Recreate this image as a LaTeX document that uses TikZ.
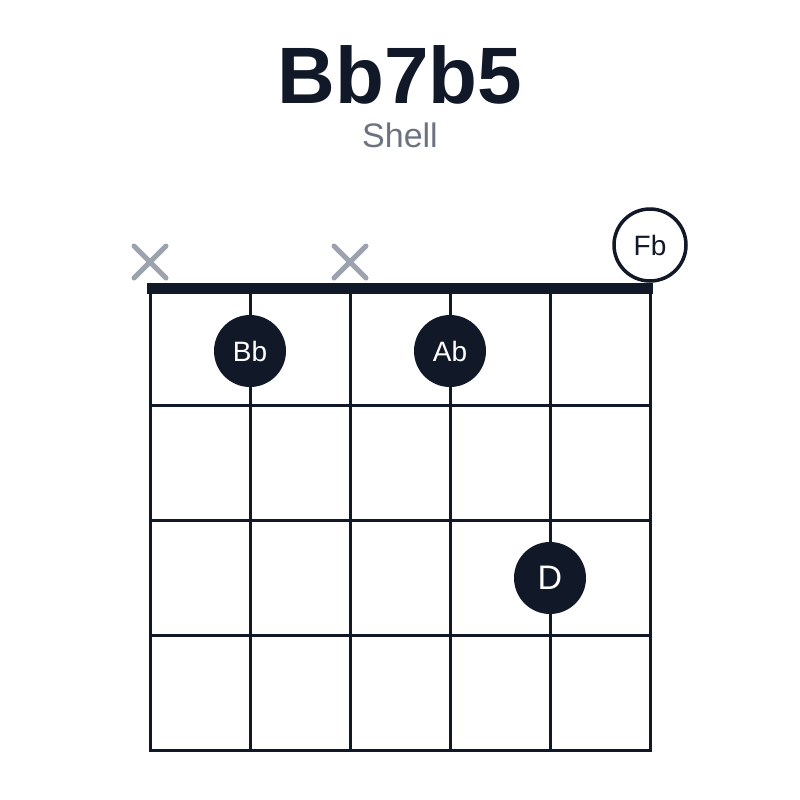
\documentclass[tikz,border=0pt]{standalone}
\usepackage{fontspec}
\setmainfont{Liberation Sans}
\definecolor{ink}{HTML}{111827}
\definecolor{subgray}{HTML}{6B7280}
\definecolor{muted}{HTML}{9CA3AF}

\begin{document}
\begin{tikzpicture}[
      x=1pt,y=-1pt,
      string/.style={ink,line width=3pt},
      fret/.style={ink,line width=3pt},
      nut/.style={ink,line width=11pt},
      finger/.style={circle,fill=ink,text=white,minimum size=72pt,inner sep=0pt,font=\fontsize{28}{28}\selectfont},
      open note/.style={circle,draw=ink,line width=3.5pt,fill=white,text=ink,minimum size=72pt,inner sep=0pt,font=\fontsize{28}{28}\selectfont},
      muted string/.style={muted,line width=5pt,line cap=round},
    ]
    \useasboundingbox (0,0) rectangle (800,800);
    % title
    \node[anchor=base,text=ink,font=\fontsize{80}{80}\selectfont\bfseries] (title) at (400,103) {Bb7b5};
    \node[anchor=base,text=subgray,font=\fontsize{34}{34}\selectfont] (subtitle) at (400,147) {Shell};
    % strings and frets
    \foreach \s in {0,...,5}
      \draw[string] (150+100*\s,288) -- (150+100*\s,751.5);
    \foreach \y in {405,520,635,750}
      \draw[fret] (148.5,\y) -- (651.5,\y);
    \draw[nut] (147,288) -- (653,288);
    % muted strings
    \foreach \x in {150,350}
      \draw[muted string] (\x-16,246) -- (\x+16,278) (\x-16,278) -- (\x+16,246);
    % notes
    \node[open note] (Fb) at (650,245) {Fb};
    \node[finger] (Bb) at (250,351) {Bb};
    \node[finger] (Ab) at (450,351) {Ab};
    \node[finger,font=\fontsize{34}{34}\selectfont] (D) at (550,578) {D};
  \end{tikzpicture}
\end{document}
